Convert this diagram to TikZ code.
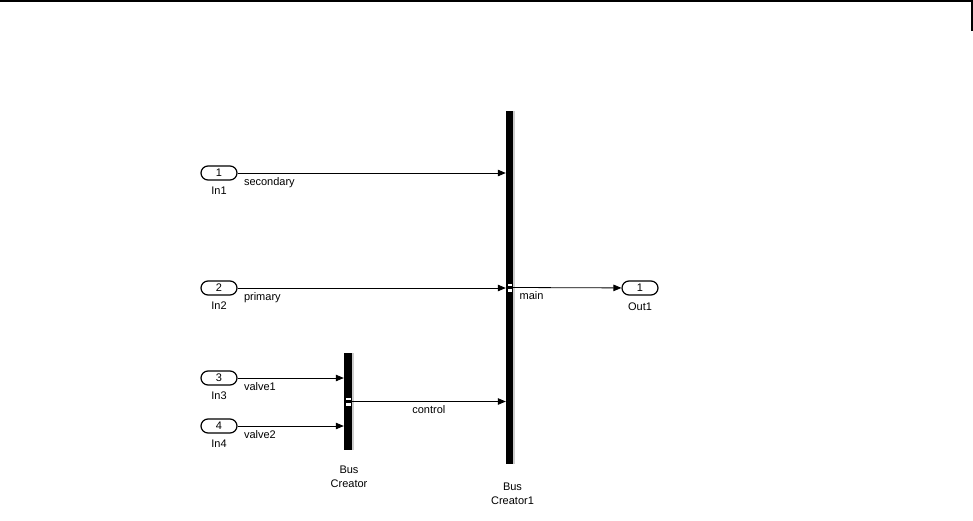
\documentclass[tikz,border=0pt]{standalone}
\usepackage{fontspec}
\setmainfont{Liberation Sans}
\usepackage{tikz}
\usetikzlibrary{arrows.meta, positioning, shadows}
\definecolor{portcolor}{RGB}{0,0,0}
\definecolor{barshade}{RGB}{205,205,205}
\tikzset{
  port/.style={draw=portcolor, line width=1.2pt, rounded corners=7pt,
               minimum width=36pt, minimum height=14pt, inner sep=0pt,
               fill=white, font=\fontsize{11}{13}\selectfont},
  busbar/.style={fill=black, draw=none, minimum width=#1, inner sep=0pt,
                 general shadow={shadow xshift=2pt, shadow yshift=0pt,
                                 fill=barshade}},
  busbar/.default=7pt,
  blockname/.style={font=\fontsize{11}{14}\selectfont, inner sep=0pt,
                    align=center},
  sig/.style={-{Triangle[length=8pt, width=6.5pt]}, line width=0.8pt},
  sigtext/.style={font=\fontsize{11}{13}\selectfont, inner sep=0pt,
                  anchor=north west, xshift=6pt, yshift=-4pt},
  busport/.style={fill=white, draw=none, minimum width=4.5pt,
                  minimum height=2.8pt, inner sep=0pt},
}

\begin{document}
\begin{tikzpicture}[x=1pt, y=-1pt]

  \useasboundingbox (0,0) rectangle (973,521);

  % window frame
  \draw[line width=1.4pt] (0,1) -- (972,1) -- (972,31);

  % Inports
  \node[port] (in1) at (219,173) {1};
  \node[port] (in2) at (219,288) {2};
  \node[port] (in3) at (219,378) {3};
  \node[port] (in4) at (219,426) {4};

  \node[blockname, below=6pt of in1] (in1name) {In1};
  \node[blockname, below=6pt of in2] (in2name) {In2};
  \node[blockname, below=6pt of in3] (in3name) {In3};
  \node[blockname, below=6pt of in4] (in4name) {In4};

  % Bus creators
  \node[busbar=8pt, minimum height=97pt] (bus) at (348,401.5) {};
  \node[busbar, minimum height=352pt] (bus1) at (509.5,287.5) {};

  \node[busport, above=1pt of bus.east, xshift=-3.5pt] (busmarkA) {};
  \node[busport, below=1pt of bus.east, xshift=-3.5pt] (busmarkB) {};
  \node[busport, above=1pt of bus1.east, xshift=-3pt] (bus1markA) {};
  \node[busport, below=1pt of bus1.east, xshift=-3pt] (bus1markB) {};

  \node[blockname, below=16pt of bus, xshift=1pt] (busname)
    {Bus\\Creator};
  \node[blockname, below=19pt of bus1, xshift=3pt] (bus1name)
    {Bus\\Creator1};

  % Outport
  \node[port] (out1) at (640,288) {1};
  \node[blockname, below=7pt of out1] (out1name) {Out1};

  % Signals
  \draw[sig] (in1) -- node[sigtext, pos=0] {secondary}
    (in1 -| bus1.west);
  \draw[sig] (in2) -- node[sigtext, pos=0] {primary}
    (in2 -| bus1.west);
  \draw[sig] (in3) -- node[sigtext, pos=0] {valve1}
    (in3 -| bus.west);
  \draw[sig] (in4) -- node[sigtext, pos=0] {valve2}
    (in4 -| bus.west);
  \draw[sig] (bus.east) -- node[sigtext, pos=0.46, anchor=north, xshift=0pt]
    {control} (bus.east -| bus1.west);
  \draw[sig] (bus1.east) -- node[sigtext, pos=0] {main} (out1);

\end{tikzpicture}
\end{document}
